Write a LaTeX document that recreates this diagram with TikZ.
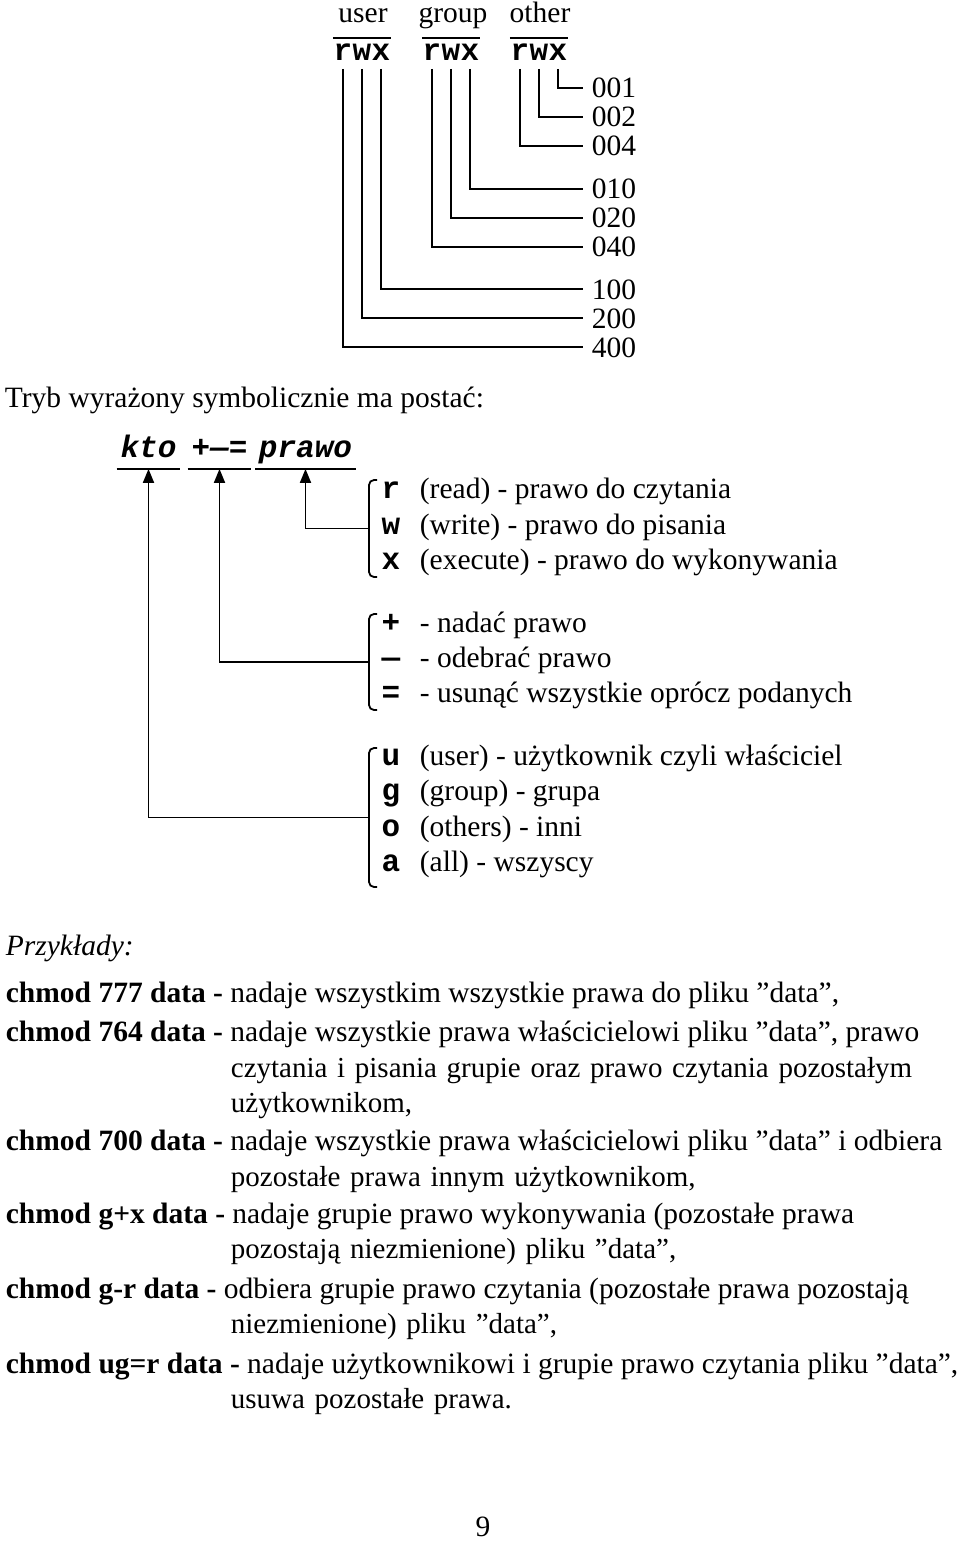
\documentclass[tikz,border=0pt]{standalone}
\usepackage{fontspec}
\setmainfont{Liberation Serif}
\setmonofont{Liberation Mono}
\usetikzlibrary{arrows.meta}

\begin{document}
\begin{tikzpicture}[
  x=1pt, y=-1pt,
  line width=1.8pt,
  txt/.style={anchor=base west,inner sep=0pt,font=\fontsize{29.5}{35.5}\selectfont},
  head/.style={anchor=base,inner xsep=0pt,inner ysep=8pt,text depth=6pt,font=\fontsize{29.5}{35.5}\selectfont},
  bit/.style={anchor=base,inner xsep=0pt,inner ysep=7pt,font=\fontsize{31}{34}\selectfont\ttfamily\bfseries},
  num/.style={anchor=base west,inner xsep=8pt,inner ysep=0pt,font=\fontsize{29.5}{35.5}\selectfont},
  code/.style={anchor=base,inner sep=0pt,font=\fontsize{31}{34}\selectfont\ttfamily\bfseries},
  part/.style={anchor=base,inner xsep=3pt,inner ysep=3pt,text depth=8pt,font=\fontsize{31}{34}\selectfont\ttfamily\bfseries\itshape},
  example/.style={anchor=base west,inner sep=0pt,font=\fontsize{29.5}{35.5}\selectfont},
  excont/.style={example,text width=900pt,font=\fontsize{29}{35.5}\selectfont},
  brace/.style={rounded corners=5pt},
  arr/.style={-{Triangle[length=14pt,width=11pt]}}
]
\useasboundingbox (0,0) rectangle (960,1554);

% octal values of the permission bits
\node[head] (user) at (363,23) {user};
\node[head] (group) at (453,23) {group};
\node[head] (other) at (540,23) {other};

\node[bit] (ur) at (343,61) {r};
\node[bit] (uw) at (362,61) {w};
\node[bit] (ux) at (381,61) {x};
\node[bit] (gr) at (432,61) {r};
\node[bit] (gw) at (451,61) {w};
\node[bit] (gx) at (470,61) {x};
\node[bit] (or) at (520,61) {r};
\node[bit] (ow) at (539,61) {w};
\node[bit] (ox) at (558,61) {x};

\draw (ur.west |- user.south) -- (ux.east |- user.south);
\draw (gr.west |- group.south) -- (gx.east |- group.south);
\draw (or.west |- other.south) -- (ox.east |- other.south);

\node[num] (n001) at (583,98) {001};
\node[num] (n002) at (583,127) {002};
\node[num] (n004) at (583,156) {004};
\node[num] (n010) at (583,199) {010};
\node[num] (n020) at (583,228) {020};
\node[num] (n040) at (583,257) {040};
\node[num] (n100) at (583,299) {100};
\node[num] (n200) at (583,328) {200};
\node[num] (n400) at (583,357) {400};

\draw (ox.south) |- (n001.west);
\draw (ow.south) |- (n002.west);
\draw (or.south) |- (n004.west);
\draw (gx.south) |- (n010.west);
\draw (gw.south) |- (n020.west);
\draw (gr.south) |- (n040.west);
\draw (ux.south) |- (n100.west);
\draw (uw.south) |- (n200.west);
\draw (ur.south) |- (n400.west);

% symbolic form
\node[txt] (tryb) at (4,407) {Tryb wyrażony symbolicznie ma postać:};

\node[part] (kto) at (148.5,457) {kto};
\node[part] (pm) at (219.5,457) {+—=};
\node[part] (prawo) at (305.5,457) {prawo};
\draw (kto.south west) -- (kto.south east);
\draw (pm.south west) -- (pm.south east);
\draw (prawo.south west) -- (prawo.south east);

\node[code] (cr) at (391,498) {r};
\node[txt] (dr) at (419,498) {(read) - prawo do czytania};
\node[code] (cw) at (391,534) {w};
\node[txt] (dw) at (419,534) {(write) - prawo do pisania};
\node[code] (cx) at (391,569) {x};
\node[txt] (dx) at (419,569) {(execute) - prawo do wykonywania};

\node[code] (cplus) at (391,632) {+};
\node[txt] (dplus) at (419,632) {- nadać prawo};
\node[code] (cminus) at (391,667) {—};
\node[txt] (dminus) at (419,667) {- odebrać prawo};
\node[code] (ceq) at (391,702) {=};
\node[txt] (deq) at (419,702) {- usunąć wszystkie oprócz podanych};

\node[code] (cu) at (391,765) {u};
\node[txt] (du) at (419,765) {(user) - użytkownik czyli właściciel};
\node[code] (cg) at (391,800) {g};
\node[txt] (dg) at (419,800) {(group) - grupa};
\node[code] (co) at (391,836) {o};
\node[txt] (do) at (419,836) {(others) - inni};
\node[code] (ca) at (391,871) {a};
\node[txt] (da) at (419,871) {(all) - wszyscy};

\draw[brace] (377,480) -- (369,480) -- (369,577) -- (377,577);
\draw[brace] (377,614) -- (369,614) -- (369,710) -- (377,710);
\draw[brace] (377,748) -- (369,748) -- (369,887) -- (377,887);
\coordinate (bprawo) at (369,528.5);
\coordinate (bpm) at (369,662);
\coordinate (bkto) at (369,817.5);

\draw[arr] (bprawo) -| (prawo.south);
\draw[arr] (bpm) -| (pm.south);
\draw[arr] (bkto) -| (kto.south);

% examples
\node[txt] (przyklady) at (5,955) {\itshape Przykłady:};

\node[example] (ex777) at (5,1002) {\textbf{chmod 777 data -} nadaje wszystkim wszystkie prawa do pliku ”data”,};
\node[example] (ex764) at (5,1041) {\textbf{chmod 764 data -} nadaje wszystkie prawa właścicielowi pliku ”data”, prawo};
\node[excont] (ex764b) at (230,1077) {czytania i pisania grupie oraz prawo czytania pozostałym\newline użytkownikom,};
\node[example] (ex700) at (5,1150) {\textbf{chmod 700 data -} nadaje wszystkie prawa właścicielowi pliku ”data” i odbiera};
\node[excont] (ex700b) at (230,1186) {pozostałe prawa innym użytkownikom,};
\node[example] (exgx) at (5,1223) {\textbf{chmod g+x data -} nadaje grupie prawo wykonywania (pozostałe prawa};
\node[excont] (exgxb) at (230,1258) {pozostają niezmienione) pliku ”data”,};
\node[example] (exgr) at (5,1298) {\textbf{chmod g-r data -} odbiera grupie prawo czytania (pozostałe prawa pozostają};
\node[excont] (exgrb) at (230,1333) {niezmienione) pliku ”data”,};
\node[example] (exugr) at (5,1373) {\textbf{chmod ug=r data -} nadaje użytkownikowi i grupie prawo czytania pliku ”data”,};
\node[excont] (exugrb) at (230,1408) {usuwa pozostałe prawa.};

\node[txt,anchor=base] (page) at (483,1536) {9};
\end{tikzpicture}
\end{document}
